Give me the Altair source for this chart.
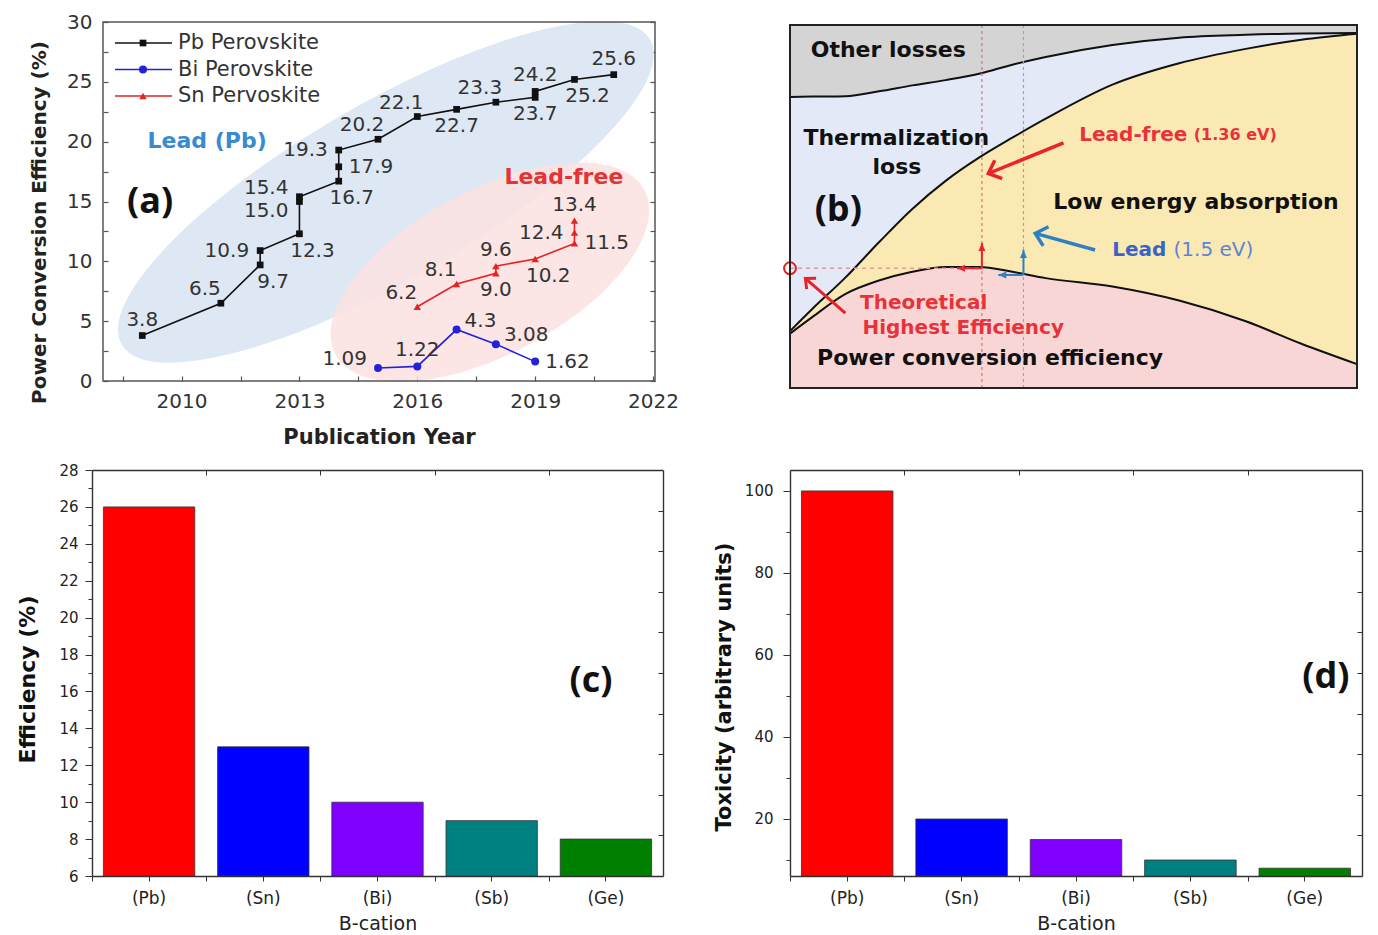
import math
import pandas as pd
import altair as alt

# =============================== DATA ===============================
# (a) record power-conversion efficiencies (%) by publication year
pb_year = [2009, 2011, 2012, 2012, 2013, 2013, 2013, 2014, 2014, 2014,
           2015, 2016, 2017, 2018, 2019, 2019, 2020, 2021]
pb_eff = [3.8, 6.5, 9.7, 10.9, 12.3, 15.0, 15.4, 16.7, 17.9, 19.3,
          20.2, 22.1, 22.7, 23.3, 23.7, 24.2, 25.2, 25.6]
bi_year = [2015, 2016, 2017, 2018, 2019]
bi_eff = [1.09, 1.22, 4.3, 3.08, 1.62]
sn_year = [2016, 2017, 2018, 2018, 2019, 2020, 2020, 2020]
sn_eff = [6.2, 8.1, 9.0, 9.6, 10.2, 11.5, 12.4, 13.4]
series_names = ["Pb Perovskite", "Bi  Perovskite", "Sn Pervoskite"]
region_names = ["Lead (Pb)", "Lead-free"]
region_year = [2015.2, 2017.85]          # centre of the shaded groupings
region_eff = [15.8, 9.1]
region_label_year = [2010.65, 2019.73]
region_label_eff = [20.05, 17.04]

# (b) detailed-balance loss breakdown vs band gap
band_gap = [0.45, 0.55, 0.7, 0.85, 1.0, 1.15, 1.3, 1.45, 1.6, 1.9, 2.2, 2.5, 2.75, 3.0]
other_losses_edge = [83.9, 84.0, 84.1, 85.5, 87.2, 88.7, 90.5, 93.1, 95.3, 98.7, 100.8, 101.6, 102.0, 102.1]
thermalization_edge = [17.2, 23.5, 32.5, 42.5, 52.0, 60.0, 66.6, 72.3, 77.7, 87.4, 93.5, 97.6, 100.2, 101.9]
pce_limit = [16.5, 21.2, 27.8, 31.6, 34.1, 35.5, 35.5, 34.1, 32.3, 29.9, 25.9, 20.0, 13.6, 7.8]
lead_free_gap = 1.313
lead_gap = 1.5
theoretical_max = 35.1

# (c), (d) B-site cation comparison
cations = ["(Pb)", "(Sn)", "(Bi)", "(Sb)", "(Ge)"]
efficiency = [26, 13, 10, 9, 8]
toxicity = [100, 20, 15, 10, 8]
bar_colors = ["#ff0000", "#0000ff", "#7f00ff", "#008080", "#008000"]

# label placement codes for panel (a) (style)
pb_label_side = ["a", "al", "br", "l", "br", "lb", "la", "br", "r", "l",
                 "al", "al", "b", "al", "b", "a", "br", "a"]
bi_label_side = ["la", "a", "ar", "ar", "r"]
sn_label_side = ["al", "al", "b", "a", "br", "r", "l", "a"]

# =============================== STYLE ===============================
W, H = 1378, 935
FONT = "DejaVu Sans"
TAG = "Open Sans"
one = pd.DataFrame({"k": [0]})

LABEL_STYLE = {
    "a": ("center", 0, -16), "b": ("center", 0, 17),
    "l": ("right", -11, 0), "la": ("right", -11, -9), "lb": ("right", -11, 9),
    "r": ("left", 10, 0), "al": ("center", -16, -14), "br": ("center", 13, 17),
    "ar": ("left", 8, -9),
}


def ellipse_path(ry):
    k = 0.5523
    return (f"M -1 0 C -1 {-k*ry:.4f} {-k:.4f} {-ry:.4f} 0 {-ry:.4f} "
            f"C {k:.4f} {-ry:.4f} 1 {-k*ry:.4f} 1 0 "
            f"C 1 {k*ry:.4f} {k:.4f} {ry:.4f} 0 {ry:.4f} "
            f"C {-k:.4f} {ry:.4f} -1 {k*ry:.4f} -1 0 Z")


# =============================== PANEL (a) ===============================
A_X = alt.Scale(domain=[2008, 2022.05], range=[103, 655], nice=False, zero=False)
A_Y = alt.Scale(domain=[0, 30], range=[381, 22], nice=False, zero=False)


def a_x(field, axis=None):
    return alt.X(field, type="quantitative", scale=A_X, axis=axis)


def a_y(field, axis=None):
    return alt.Y(field, type="quantitative", scale=A_Y, axis=axis)


def series_frame(name, years, effs, sides):
    return pd.DataFrame({"series": name, "year": years, "eff": effs,
                         "label": [str(v) for v in effs], "pos": sides,
                         "idx": list(range(len(years)))})


pb_df = series_frame(series_names[0], pb_year, pb_eff, pb_label_side)
bi_df = series_frame(series_names[1], bi_year, bi_eff, bi_label_side)
sn_df = series_frame(series_names[2], sn_year, sn_eff, sn_label_side)
all_pts = pd.concat([pb_df, bi_df, sn_df], ignore_index=True)

ell_df = pd.DataFrame({"region": region_names, "year": region_year, "eff": region_eff})
blue_ell = alt.Chart(ell_df).transform_filter(alt.datum.region == region_names[0]).mark_point(
    shape=ellipse_path(0.29), size=610 ** 2, angle=330, filled=True, color="#dde8f4",
    opacity=1, strokeWidth=0).encode(x=a_x("year"), y=a_y("eff"))
pink_ell = alt.Chart(ell_df).transform_filter(alt.datum.region == region_names[1]).mark_point(
    shape=ellipse_path(0.47), size=350 ** 2, angle=332, filled=True, color="#fbe1e1",
    opacity=0.85, strokeWidth=0).encode(x=a_x("year"), y=a_y("eff"))

a_layers = [blue_ell, pink_ell]
for df, color, shape, size in [(pb_df, "#111111", "square", 45),
                               (bi_df, "#2222dd", "circle", 64),
                               (sn_df, "#e62222", "triangle-up", 55)]:
    a_layers.append(alt.Chart(df).mark_line(color=color, strokeWidth=1.6).encode(
        x=a_x("year"), y=a_y("eff"), order="idx:Q"))
    a_layers.append(alt.Chart(df).mark_point(shape=shape, filled=True, size=size, color=color,
                                             opacity=1).encode(x=a_x("year"), y=a_y("eff")))

for code, (align, dx, dy) in LABEL_STYLE.items():
    a_layers.append(alt.Chart(all_pts).transform_filter(alt.datum.pos == code).mark_text(
        align=align, baseline="middle", dx=dx, dy=dy, font=FONT, fontSize=20, color="#333").encode(
        x=a_x("year"), y=a_y("eff"), text="label:N"))

reg_lab = pd.DataFrame({"region": region_names, "year": region_label_year, "eff": region_label_eff})
for name, color in zip(region_names, ["#3a8ad0", "#e53232"]):
    a_layers.append(alt.Chart(reg_lab).transform_filter(alt.datum.region == name).mark_text(
        font=FONT, fontSize=22, fontWeight="bold", color=color, baseline="middle").encode(
        x=a_x("year"), y=a_y("eff"), text="region:N"))

a_layers.append(alt.Chart(one).mark_text(text="(a)", font=TAG, fontSize=36, fontWeight="bold",
                                         color="#111", baseline="middle").encode(
    x=alt.XDatum(2009.2, scale=A_X, axis=None), y=alt.YDatum(14.98, scale=A_Y, axis=None)))

a_layers.append(alt.Chart(one).mark_rect(filled=False, fillOpacity=0, stroke="#555", strokeWidth=1.5).encode(
    x=alt.XDatum(2008, scale=A_X, axis=None), x2=alt.X2Datum(2022.05),
    y=alt.YDatum(0, scale=A_Y, axis=None), y2=alt.Y2Datum(30)))

a_tick_vals = [2.5 * i for i in range(13)]
a_year_ticks = [2008.5 + 1.5 * i for i in range(10)]
a_layers.append(alt.Chart(pb_df).mark_point(opacity=0).encode(
    x=a_x("year", alt.Axis(orient="bottom", offset=376 - H, values=a_year_ticks, format="d",
                           labelExpr="(datum.value - 2010) % 3 === 0 ? datum.label : ''",
                           tickSize=5, tickColor="#555", tickWidth=1.2, domain=False,
                           labelFontSize=20, labelPadding=10.5, labelColor="#333",
                           title="Publication Year", titleFontSize=21, titleFontWeight="bold",
                           titleColor="#222", titleX=379, titleY=61.5, titleAngle=0,
                           titleBaseline="middle", titleAlign="center")),
    y=a_y("eff", alt.Axis(orient="left", offset=-108, values=a_tick_vals, format="d",
                          labelExpr="datum.value % 5 === 0 ? datum.label : ''",
                          tickSize=5, tickColor="#555", tickWidth=1.2, domain=False,
                          labelFontSize=20, labelPadding=11, labelColor="#333",
                          title="Power Conversion Efficiency (%)", titleFontSize=20,
                          titleFontWeight="bold", titleColor="#222", titleX=-68.4, titleY=222,
                          titleAngle=270, titleBaseline="middle", titleAlign="center"))))
a_layers.append(alt.Chart(pb_df).mark_point(opacity=0).encode(
    x=a_x("year"),
    y=a_y("eff", alt.Axis(orient="right", offset=650 - W, values=a_tick_vals, tickSize=5,
                          tickColor="#555", tickWidth=1.2, domain=False, labels=False, title=None))))

panel_a = alt.layer(*a_layers).resolve_axis(x="independent", y="independent")

# legend of panel (a)
leg_df = pd.DataFrame({"series": series_names, "color": ["#111111", "#2222dd", "#e62222"],
                       "shape": ["square", "circle", "triangle-up"], "msize": [45, 64, 55]})
LEG_Y = alt.Scale(type="point", domain=series_names, range=[43, 96], padding=0)
leg_y = alt.Y("series:N", scale=LEG_Y, axis=None)
legend_a = alt.layer(
    alt.Chart(leg_df).mark_rule(strokeWidth=1.6).encode(
        x=alt.value(115), x2=alt.value(172), y=leg_y, color=alt.Color("color:N", scale=None)),
    alt.Chart(leg_df).mark_point(filled=True, opacity=1).encode(
        x=alt.value(143), y=leg_y, color=alt.Color("color:N", scale=None),
        shape=alt.Shape("shape:N", scale=None), size=alt.Size("msize:Q", scale=None)),
    alt.Chart(leg_df).mark_text(align="left", baseline="middle", font=FONT, fontSize=21,
                                color="#333").encode(x=alt.value(178), y=leg_y, text="series:N"),
)

# =============================== PANEL (b) ===============================
B_X = alt.Scale(domain=[0.45, 3.0], range=[790, 1357], nice=False, zero=False)
B_Y = alt.Scale(domain=[1.0, 104.4], range=[388, 25], nice=False, zero=False)
KX = (1357 - 790) / (3.0 - 0.45)
KY = (388 - 25) / (104.4 - 1.0)
b_df = pd.DataFrame({"bg": band_gap, "top": other_losses_edge, "mid": thermalization_edge,
                     "pce": pce_limit})


def bx(v):
    return alt.XDatum(v, scale=B_X, axis=None)


def by(v):
    return alt.YDatum(v, scale=B_Y, axis=None)


def b_field_x(axis=None):
    return alt.X("bg:Q", scale=B_X, axis=axis)


def b_field_y(f, axis=None):
    return alt.Y(f"{f}:Q", scale=B_Y, axis=axis)


b_layers = []
b_layers.append(alt.Chart(b_df).mark_area(interpolate="monotone", color="#f9d6d6").encode(
    x=b_field_x(alt.Axis(orient="bottom", offset=381 - H, values=[0.45, 1.0, 1.5, 2.0, 2.5, 3.0],
                         labelExpr="datum.value < 0.5 ? '0.0' : format(datum.value, '.1f')",
                         tickSize=7, tickColor="#444", domain=False, labelFontSize=22,
                         labelPadding=14.5, labelColor="#333", title="Band gap (eV)",
                         titleFontSize=24, titleFontWeight="normal", titleColor="#333",
                         titleX=1087, titleY=61, titleAngle=0, titleBaseline="middle",
                         titleAlign="center")),
    y=b_field_y("pce", alt.Axis(orient="left", offset=-797, values=[25, 50, 75, 100],
                                labelExpr="datum.value + '%'", tickSize=7, tickColor="#444",
                                domain=False, labelFontSize=21, labelPadding=15,
                                labelColor="#333", title=None)),
    y2=alt.Y2Datum(1.0)))
b_layers.append(alt.Chart(b_df).mark_area(interpolate="monotone", color="#fbe9b4").encode(
    x=b_field_x(), y=b_field_y("mid"), y2=alt.Y2("pce:Q")))
b_layers.append(alt.Chart(b_df).mark_area(interpolate="monotone", color="#e4e9f8").encode(
    x=b_field_x(), y=b_field_y("top"), y2=alt.Y2("mid:Q")))
b_layers.append(alt.Chart(b_df).mark_area(interpolate="monotone", color="#d4d4d4").encode(
    x=b_field_x(), y=b_field_y("top"), y2=alt.Y2Datum(104.4)))
for f in ["top", "mid", "pce"]:
    b_layers.append(alt.Chart(b_df).mark_line(interpolate="monotone", color="#111",
                                              strokeWidth=2).encode(x=b_field_x(), y=b_field_y(f)))

# guide lines
b_layers.append(alt.Chart(one).mark_rule(color="#e07070", strokeWidth=1.2, strokeDash=[3, 3]).encode(
    x=bx(lead_free_gap), y=by(1.0), y2=alt.Y2Datum(104.4)))
b_layers.append(alt.Chart(one).mark_rule(color="#8aa4dd", strokeWidth=1.2, strokeDash=[3, 3]).encode(
    x=bx(lead_gap), y=by(1.0), y2=alt.Y2Datum(104.4)))
b_layers.append(alt.Chart(one).mark_rule(color="#e89a9a", strokeWidth=1.4, strokeDash=[4, 4]).encode(
    x=bx(0.45), x2=alt.X2Datum(lead_free_gap), y=by(theoretical_max)))
b_layers.append(alt.Chart(one).mark_point(shape="circle", filled=False, size=140, color="#e02020",
                                          strokeWidth=2, opacity=1).encode(
    x=bx(0.45), y=by(theoretical_max)))

CHEVRON = "M -0.9 1 L 0 0 L 0.9 1"
TRI = "M 0 0 L 0.65 1.5 L -0.65 1.5 Z"


def b_arrow(x0, y0, x1, y1, color, width, head, size, filled):
    ang = math.degrees(math.atan2((x1 - x0) * KX, (y1 - y0) * KY)) % 360
    shaft = alt.Chart(one).mark_rule(color=color, strokeWidth=width).encode(
        x=bx(x0), x2=alt.X2Datum(x1), y=by(y0), y2=alt.Y2Datum(y1))
    tip = alt.Chart(one).mark_point(shape=head, size=size, angle=round(ang, 2), filled=filled,
                                    color=color, strokeWidth=width, opacity=1).encode(
        x=bx(x1), y=by(y1))
    return [shaft, tip]


RED, BLUE = "#e8242a", "#2f7fc1"
b_layers += b_arrow(1.68, 70.8, 1.342, 62.1, RED, 3.5, CHEVRON, 484, False)
b_layers += b_arrow(1.822, 40.3, 1.553, 45.05, BLUE, 3.5, CHEVRON, 484, False)
b_layers += b_arrow(0.699, 22.3, 0.519, 32.2, RED, 3.0, CHEVRON, 256, False)
b_layers += b_arrow(lead_free_gap, theoretical_max, lead_free_gap, 42.3, RED, 2, TRI, 113, True)
b_layers += b_arrow(lead_free_gap, theoretical_max, 1.201, theoretical_max, RED, 2, TRI, 113, True)
b_layers += b_arrow(lead_gap, 33.2, lead_gap, 40.3, BLUE, 2, TRI, 113, True)
b_layers += b_arrow(lead_gap, 33.2, 1.387, 33.2, BLUE, 2, TRI, 113, True)


def b_text(x, y, s, size=22, color="#111", weight="bold", align="center", font=FONT):
    return alt.Chart(one).mark_text(text=s, font=font, fontSize=size, fontWeight=weight,
                                    color=color, align=align, baseline="middle").encode(
        x=bx(x), y=by(y))


b_layers += [
    b_text(0.892, 97.2, "Other losses"),
    b_text(0.928, 72.1, "Thermalization"),
    b_text(0.931, 64.0, "loss"),
    b_text(2.276, 54.05, "Low energy absorption"),
    b_text(1.35, 9.45, "Power conversion efficiency"),
    b_text(1.751, 73.0, "Lead-free", size=20, color="#e8323a", align="left"),
    b_text(2.266, 73.0, "(1.36 eV)", size=16, color="#e8323a", align="left"),
    b_text(1.899, 40.3, "Lead", size=20, color="#3a63c8", align="left"),
    b_text(2.175, 40.3, "(1.5 eV)", size=20, color="#5b84d6", weight="normal", align="left"),
    b_text(1.051, 25.1, "Theoretical", size=20, color="#e8323a"),
    b_text(1.229, 18.0, "Highest Efficiency", size=20, color="#e8323a"),
    b_text(0.667, 51.7, "(b)", size=36, font=TAG),
]
b_layers.append(alt.Chart(one).mark_rect(filled=False, fillOpacity=0, stroke="#222", strokeWidth=2).encode(
    x=bx(0.45), x2=alt.X2Datum(3.0), y=by(1.0), y2=alt.Y2Datum(104.4)))

panel_b = alt.layer(*b_layers)


# =============================== PANELS (c), (d) ===============================
def bar_panel(values, x0, x1, ylo, yhi, major, minor, y_title, title_size, title_x, title_y,
              label_pad, tag, tag_dx, tag_value):
    df = pd.DataFrame({"cation": cations, "value": values, "color": bar_colors})
    xs = alt.Scale(type="band", domain=cations, range=[x0, x1], paddingInner=0.2, paddingOuter=0.1)
    ys = alt.Scale(domain=[ylo, yhi], range=[876, 470], nice=False, zero=False)
    half_step = (x1 - x0) / 5 / 2
    mirror = [ylo + (yhi - ylo) * i / 10 for i in range(1, 10)]

    def X(axis=None):
        return alt.X("cation:N", scale=xs, sort=None, axis=axis)

    def Y(axis=None):
        return alt.Y("value:Q", scale=ys, axis=axis)

    bars = alt.Chart(df).mark_bar(stroke="#333", strokeWidth=0.8).encode(
        x=X(alt.Axis(orient="bottom", offset=876 - H, domain=True, domainColor="#333",
                     domainWidth=1.4, tickSize=5, tickColor="#333", labelAngle=0,
                     labelFontSize=17, labelPadding=9, labelColor="#222", title="B-cation",
                     titleFontSize=19, titleFontWeight="normal", titleColor="#222",
                     titleX=(x0 + x1) / 2, titleY=47.5, titleAngle=0, titleBaseline="middle",
                     titleAlign="center")),
        y=Y(alt.Axis(orient="left", offset=-x0, values=major, domain=True, domainColor="#333",
                     domainWidth=1.4, tickSize=7, tickColor="#333", labelFontSize=15,
                     labelPadding=label_pad, labelColor="#222", title=y_title,
                     titleFontSize=title_size, titleFontWeight="bold", titleColor="#111",
                     titleX=title_x - x0, titleY=title_y, titleAngle=270,
                     titleBaseline="middle", titleAlign="center")),
        y2=alt.Y2Datum(ylo),
        color=alt.Color("color:N", scale=None))
    ghost = alt.Chart(df).mark_point(opacity=0)
    frame = ghost.encode(
        x=X(alt.Axis(orient="top", offset=-470, domain=True, domainColor="#333", domainWidth=1.4,
                     ticks=False, labels=False, title=None)),
        y=Y(alt.Axis(orient="right", offset=x1 - W, domain=True, domainColor="#333",
                     domainWidth=1.4, ticks=False, labels=False, title=None)))
    inner = ghost.encode(
        x=X(alt.Axis(orient="top", offset=-475, domain=False, tickSize=5, tickOffset=-half_step,
                     tickColor="#333", labels=False, title=None)),
        y=Y(alt.Axis(orient="right", offset=x1 - 5 - W, values=mirror, domain=False, tickSize=5,
                     tickColor="#333", labels=False, title=None)))
    minor_t = ghost.encode(
        x=X(alt.Axis(orient="bottom", offset=876 - H, domain=False, tickSize=5,
                     tickOffset=-half_step, tickColor="#333", labels=False, title=None)),
        y=Y(alt.Axis(orient="left", offset=-x0, values=minor, domain=False, tickSize=4,
                     tickColor="#333", labels=False, title=None)))
    tag_txt = alt.Chart(one).mark_text(text=tag, font=TAG, fontSize=36, fontWeight="bold",
                                       color="#111", dx=tag_dx, baseline="middle").encode(
        x=alt.XDatum("(Ge)", type="nominal", scale=xs, axis=None),
        y=alt.YDatum(tag_value, scale=ys, axis=None))
    return alt.layer(bars, frame, inner, minor_t, tag_txt).resolve_axis(x="independent", y="independent")


panel_c = bar_panel(efficiency, 92, 663, 6, 28, list(range(6, 29, 2)), list(range(7, 28, 2)),
                    "Efficiency (%)", 22, 27.5, 679, 7, "(c)", -15, 16.57)
panel_d = bar_panel(toxicity, 790, 1362, 6.1, 105.1, [20, 40, 60, 80, 100], [10, 30, 50, 70, 90],
                    "Toxicity (arbitrary units)", 21, 724, 686.5, 10, "(d)", 21, 54.6)

chart = alt.layer(panel_a, legend_a, panel_b, panel_c, panel_d).resolve_scale(
    x="independent", y="independent").properties(
    width=W, height=H, padding=0, background="white",
    autosize=alt.AutoSizeParams(type="none")).configure_view(strokeWidth=0).configure_axis(
    grid=False, labelFont=FONT, titleFont=FONT, labelFlush=False, labelOverlap=False)

chart.save("out.html", embed_options={"renderer": "svg", "actions": False})
